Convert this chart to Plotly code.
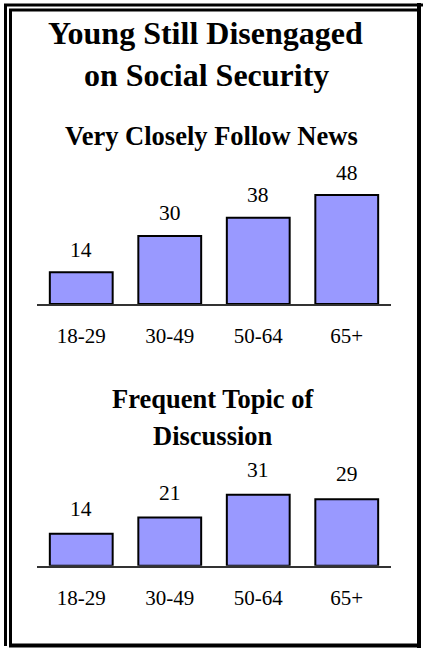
import plotly.graph_objects as go

# ---- data ----
categories = ["18-29", "30-49", "50-64", "65+"]
follow_news = [14, 30, 38, 48]
discussion = [14, 21, 31, 29]

title_lines = ["Young Still Disengaged", "on Social Security"]
panel1_title = ["Very Closely Follow News"]
panel2_title = ["Frequent Topic of", "Discussion"]

# ---- layout constants ----
W, H = 423, 648
FONT = "Times New Roman, Liberation Serif, serif"
BAR_COLOR = "#9999FF"


def fx(px):
    return px / W


def fy(py):
    return 1 - py / H


X_DOM = [fx(37), fx(391)]
# panel 1: baseline y=304px, 2.27 px per unit, range 0..60
P1_RANGE = 60
P1_DOM = [fy(304), fy(304 - 2.27 * P1_RANGE)]
# panel 2: baseline y=565.7px, 2.29 px per unit, range 0..40
P2_RANGE = 40
P2_DOM = [fy(565.7), fy(565.7 - 2.29 * P2_RANGE)]

fig = go.Figure()
for vals, xa, ya in [(follow_news, "x", "y"), (discussion, "x2", "y2")]:
    fig.add_trace(go.Bar(
        x=categories, y=vals, xaxis=xa, yaxis=ya,
        marker=dict(color=BAR_COLOR, line=dict(color="#000000", width=2)),
        hoverinfo="skip", showlegend=False,
    ))

annotations = []
# value labels
for vals, xr, yr, shift in [(follow_news, "x", "y", 22.5), (discussion, "x2", "y2", 25)]:
    for c, v in zip(categories, vals):
        annotations.append(dict(
            x=c, y=v, xref=xr, yref=yr, text=str(v), showarrow=False,
            yanchor="middle", yshift=shift,
            font=dict(family=FONT, size=21.5, color="#000000"),
        ))

# titles
def title(text, px, py, size):
    annotations.append(dict(
        x=fx(px), y=fy(py), xref="paper", yref="paper", text=text,
        showarrow=False, xanchor="center", yanchor="middle",
        font=dict(family=FONT, size=size, color="#000000", weight="bold"),
    ))


title(title_lines[0], 205.5, 33.5, 32)
title(title_lines[1], 206, 75, 32)
title(panel1_title[0], 212, 136, 26.5)
title(panel2_title[0], 212.5, 398.5, 26.5)
title(panel2_title[1], 212.5, 436, 26.5)

axis_common = dict(
    showgrid=False, zeroline=False, showline=True, linecolor="#333333", linewidth=1.5,
    ticks="", tickfont=dict(family=FONT, size=21, color="#000000"),
    ticklabelstandoff=12, fixedrange=True,
)
yaxis_common = dict(showgrid=False, zeroline=False, showline=False,
                    showticklabels=False, ticks="", fixedrange=True)

# border lines
shapes = []
def line(x0, y0, x1, y1, w):
    shapes.append(dict(type="line", xref="paper", yref="paper",
                       x0=fx(x0), y0=fy(y0), x1=fx(x1), y1=fy(y1),
                       line=dict(color="#000000", width=w)))

line(4, 5, 423, 5, 3)       # outer top
line(5.5, 4, 5.5, 646, 3)   # outer left
line(9, 10, 421, 10, 3)     # inner top
line(10.5, 9, 10.5, 647, 3)  # inner left
line(419, 3, 419, 648, 4)   # right
line(9, 645.5, 421, 645.5, 4)  # bottom

fig.update_layout(
    width=W, height=H, margin=dict(l=0, r=0, t=0, b=0),
    paper_bgcolor="#FFFFFF", plot_bgcolor="rgba(0,0,0,0)",
    bargap=0.29,
    xaxis=dict(domain=X_DOM, anchor="y", **axis_common),
    yaxis=dict(domain=P1_DOM, range=[0, P1_RANGE], anchor="x", **yaxis_common),
    xaxis2=dict(domain=X_DOM, anchor="y2", **axis_common),
    yaxis2=dict(domain=P2_DOM, range=[0, P2_RANGE], anchor="x2", **yaxis_common),
    annotations=annotations, shapes=shapes,
)

fig.write_html("out.html", config={"displayModeBar": False})
